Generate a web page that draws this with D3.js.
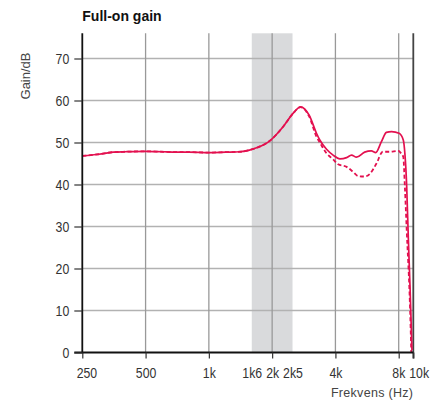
<!DOCTYPE html>
<html><head><meta charset="utf-8">
<script src="https://cdn.jsdelivr.net/npm/d3@7"></script>
<style>
body{margin:0;background:#fff;}
svg{display:block;}
text{font-family:"Liberation Sans",Arial,sans-serif;}
</style></head>
<body>
<script>
const title = "Full-on gain";
const yLabel = "Gain/dB";
const xLabel = "Frekvens (Hz)";
const yTicks = [0,10,20,30,40,50,60,70];
const xTickValues = [250,500,1000,1600,2000,2500,4000,8000,10000];
const xTickLabels = ["250","500","1k","1k6","2k","2k5","4k","8k","10k"];
const gridFreqs = [500,1000,2000,4000,8000];
const band = [1600,2500];

const freqSolid = [250,300,350,400,500,600,700,800,1000,1200,1400,1560,1700,1950,2260,2520,2730,3000,3250,3370,3630,3900,4200,4520,4770,5040,5510,5930,6220,6620,6990,7400,8050,8580,8790,9040,9260,9510,9800];
const gainSolid = [46.8,47.2,47.7,47.8,47.9,47.8,47.7,47.7,47.6,47.7,47.8,48.2,48.8,50.4,53.8,57.0,58.5,56.5,52.2,50.6,48.4,47.0,46.1,46.4,47.0,46.5,47.7,48.0,47.6,50.2,52.4,52.6,52.2,50.6,47.4,39.5,27.6,15.7,0.6];

const freqDashed = [250,300,350,400,500,600,700,800,1000,1200,1400,1560,1700,1950,2260,2520,2730,3000,3250,3370,3630,3900,4120,4520,4860,5130,5510,5850,6270,6720,7200,7980,8300,8580,8790,9040,9510,9700];
const gainDashed = [46.8,47.2,47.7,47.8,47.9,47.8,47.7,47.7,47.6,47.7,47.8,48.2,48.8,50.4,53.8,57.0,58.4,56.2,51.4,50.0,47.4,46.0,44.8,44.2,43.0,42.0,41.9,42.6,45.0,47.8,47.8,48.0,47.4,46.6,39.5,29.2,10.9,0.0];

const W = 439, H = 402;
const svg = d3.select("body").append("svg").attr("width",W).attr("height",H);

const x = d3.scaleLog().domain([250,8000,10000]).range([82.3,398.7,413.3]);
const y = d3.scaleLinear().domain([0,76]).range([352.5,33.3]);
const x0 = x(250), x1 = x(10000), yTop = y(76), yBot = y(0);
const red = "#e3104f";
const narrow = 0.82;

// band
svg.append("rect").attr("x",x(band[0])).attr("y",yTop)
  .attr("width",x(band[1])-x(band[0])).attr("height",yBot-yTop)
  .attr("fill","#d9dadc");

// horizontal grid
svg.append("g").selectAll("line").data(yTicks.filter(d=>d>0)).join("line")
  .attr("x1",x0).attr("x2",x1).attr("y1",d=>y(d)).attr("y2",d=>y(d))
  .attr("stroke","#b2b2b2").attr("stroke-width",1.6);

// vertical grid
svg.append("g").selectAll("line").data(gridFreqs).join("line")
  .attr("x1",d=>x(d)).attr("x2",d=>x(d)).attr("y1",yTop).attr("y2",yBot)
  .attr("stroke","#999").attr("stroke-width",1.3);

// right border at 10k
svg.append("line").attr("x1",x1).attr("x2",x1).attr("y1",yTop).attr("y2",yBot+6)
  .attr("stroke","#444").attr("stroke-width",1.8);

// curves
const line = (fs,gs)=>d3.line().curve(d3.curveMonotoneX)
  .x((d,i)=>x(fs[i])).y((d,i)=>y(gs[i]))(fs);
svg.append("path").attr("d",line(freqDashed,gainDashed)).attr("fill","none")
  .attr("stroke",red).attr("stroke-width",1.8).attr("stroke-dasharray","4,2.5");
svg.append("path").attr("d",line(freqSolid,gainSolid)).attr("fill","none")
  .attr("stroke",red).attr("stroke-width",1.7);

// y axis
const yAxis = d3.axisLeft(y).tickValues(yTicks).tickSize(8).tickPadding(5).tickFormat(d3.format("d"));
const gy = svg.append("g").attr("transform",`translate(${x0},0)`).call(yAxis);
gy.select(".domain").attr("stroke","#111").attr("stroke-width",1.8).attr("d",`M-8,${yBot}H0V${yTop}`);
gy.selectAll(".tick line").attr("stroke","#333").attr("stroke-width",1.2);
gy.selectAll(".tick text").attr("font-size",15).attr("fill","#333")
  .style("font-family",'"Liberation Sans",Arial,sans-serif')
  .attr("x",0).attr("transform",`translate(-13,0) scale(${narrow},1)`);

// x axis
const xAxis = d3.axisBottom(x).tickValues(xTickValues).tickSize(6).tickPadding(9)
  .tickFormat((d,i)=>xTickLabels[i]);
const gx = svg.append("g").attr("transform",`translate(0,${yBot})`).call(xAxis);
gx.select(".domain").attr("stroke","#111").attr("stroke-width",1.8).attr("d",`M${x0},0H${x1}`);
gx.selectAll(".tick line").attr("stroke","#333").attr("stroke-width",1.2)
  .attr("display",d=>(d===1600||d===2500)?"none":null);
gx.selectAll(".tick text").attr("font-size",15).attr("fill","#333")
  .style("font-family",'"Liberation Sans",Arial,sans-serif')
  .attr("transform",`scale(${narrow},1)`)
  .attr("dx",d=>d===250?5:(d===10000?6.5:(d===8000?-0.5:0)));

// labels
svg.append("text").attr("x",x0).attr("y",21).text(title)
  .attr("font-size",14).attr("font-weight","bold").attr("fill","#111");
svg.append("text").attr("transform","translate(30,76) rotate(-90)")
  .attr("text-anchor","middle").text(yLabel).attr("font-size",13).attr("fill","#444");
svg.append("text").attr("x",x1).attr("y",396.5).attr("text-anchor","end").text(xLabel)
  .attr("font-size",12.5).attr("fill","#444").attr("letter-spacing",0.3);
</script>
</body></html>
